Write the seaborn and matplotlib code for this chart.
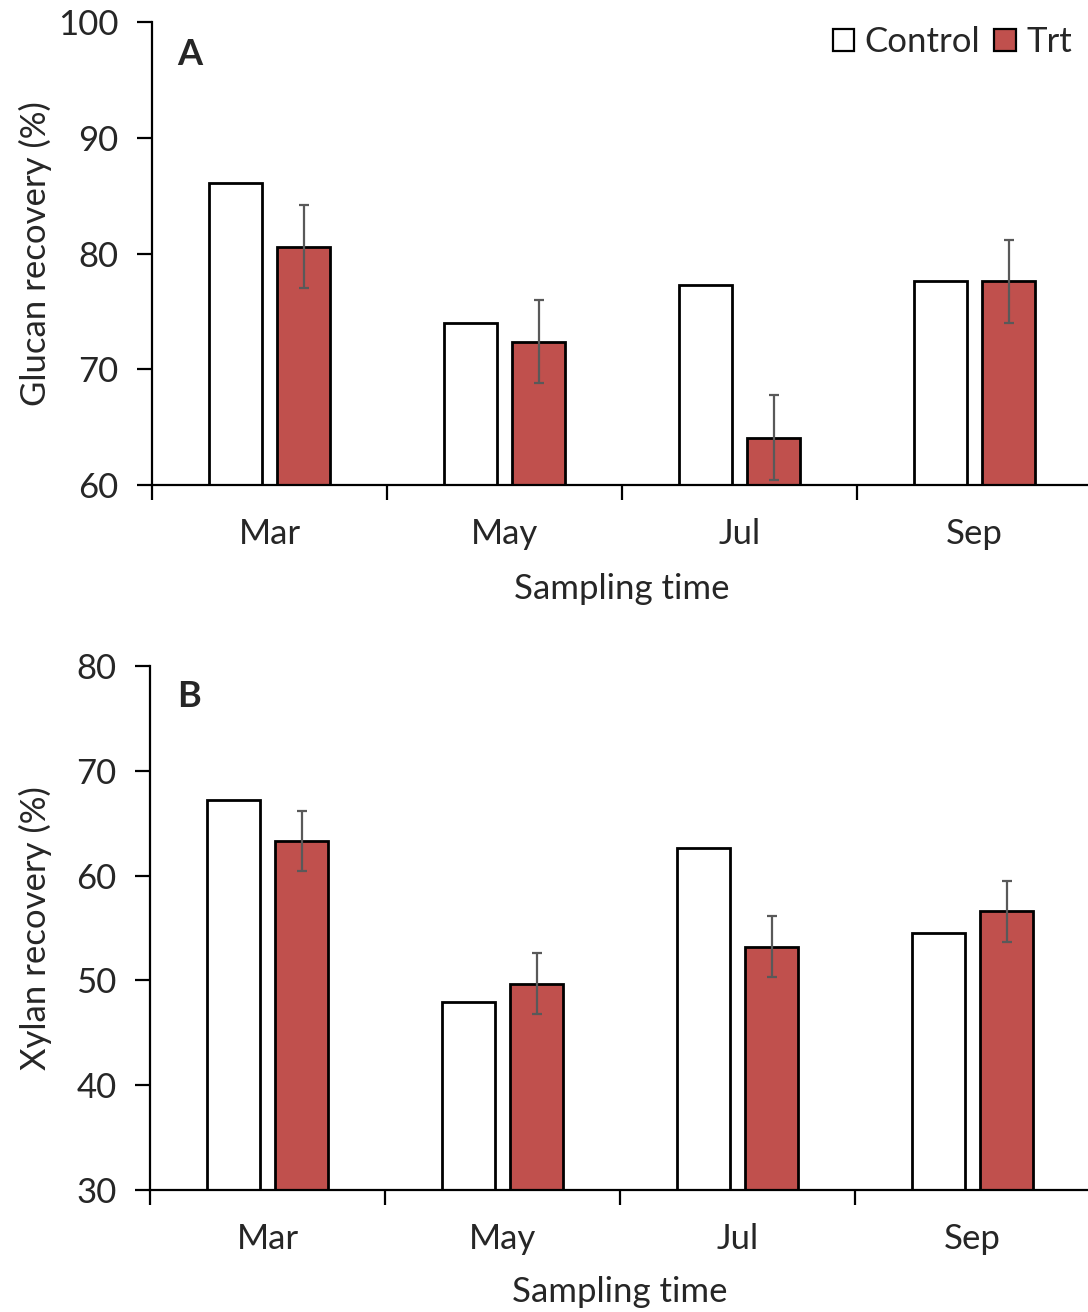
import numpy as np
import pandas as pd
import seaborn as sns
import matplotlib.pyplot as plt
from matplotlib.patches import Patch

months = ['Mar', 'May', 'Jul', 'Sep']
groups = ['Control', 'Trt']

glucan_control = [86.1, 74.0, 77.3, 77.6]
glucan_trt = [80.6, 72.4, 64.1, 77.6]
glucan_trt_err = [3.6, 3.6, 3.7, 3.6]

xylan_control = [67.2, 47.9, 62.6, 54.5]
xylan_trt = [63.3, 49.7, 53.2, 56.6]
xylan_trt_err = [2.9, 2.9, 2.9, 2.9]

red = '#C0504D'
fs = 25

sns.set_style('ticks')
plt.rcParams['font.family'] = ['Lato', 'DejaVu Sans']

fig = plt.figure(figsize=(10.88, 13.12), dpi=100)
axA = fig.add_axes([0.1397, 0.6303, 0.864, 0.3529])
axB = fig.add_axes([0.1379, 0.0930, 0.864, 0.3994])


def panel(ax, ctrl, trt, err, ylim, yticks, ylabel, letter, lpos, ylab_x, xlab_y):
    df = pd.DataFrame({'month': months * 2,
                       'group': ['Control'] * 4 + ['Trt'] * 4,
                       'value': ctrl + trt})
    sns.barplot(data=df, x='month', y='value', hue='group', order=months,
                hue_order=groups, palette={'Control': 'white', 'Trt': red},
                width=0.58, gap=0.22, edgecolor='black', linewidth=2,
                errorbar=None, legend=False, saturation=1, ax=ax)
    xs = [p.get_x() + p.get_width() / 2 for p in ax.containers[1]]
    ax.errorbar(xs, trt, yerr=err, fmt='none', ecolor='#595959',
                elinewidth=1.6, capsize=3.3, capthick=1.6, zorder=4)

    ax.set_ylim(*ylim)
    ax.set_yticks(yticks)
    ax.set_xlim(-0.5, 3.5)
    ax.set_xticks([-0.5, 0.5, 1.5, 2.5, 3.5])
    ax.set_xticklabels([])
    ax.set_xticks(range(4), minor=True)
    ax.set_xticklabels(months, minor=True)
    sns.despine(ax=ax)
    for s in ['left', 'bottom']:
        ax.spines[s].set_linewidth(1.6)
        ax.spines[s].set_color('black')
    ax.tick_params(axis='both', which='major', direction='out', length=11,
                   width=1.6, color='black', labelsize=fs, pad=13)
    ax.tick_params(axis='x', which='minor', length=0, labelsize=fs, pad=24)

    ax.set_ylabel(ylabel, fontsize=fs)
    ax.set_xlabel('Sampling time', fontsize=fs, va='top')
    ax.yaxis.set_label_coords(ylab_x, 0.5)
    ax.xaxis.set_label_coords(0.5, xlab_y)
    ax.text(lpos[0], lpos[1], letter, transform=ax.transAxes, fontsize=26,
            fontweight='bold', ha='center', va='center')


panel(axA, glucan_control, glucan_trt, glucan_trt_err, (60, 100),
      [60, 70, 80, 90, 100], 'Glucan recovery (%)', 'A', (0.040, 0.929),
      -0.106, -0.19)
panel(axB, xylan_control, xylan_trt, xylan_trt_err, (30, 80),
      [30, 40, 50, 60, 70, 80], 'Xylan recovery (%)', 'B', (0.0415, 0.941),
      -0.104, -0.165)

handles = [Patch(facecolor='white', edgecolor='black', linewidth=1.6),
           Patch(facecolor=red, edgecolor='black', linewidth=1.6)]
fig.legend(handles, groups, loc='center right', ncol=2, frameon=False,
           fontsize=fs, handlelength=0.62, handleheight=0.62,
           handletextpad=0.3, columnspacing=0.4, borderpad=0,
           borderaxespad=0, bbox_to_anchor=(0.9853, 0.968))

fig.savefig('out.png', dpi=100)
